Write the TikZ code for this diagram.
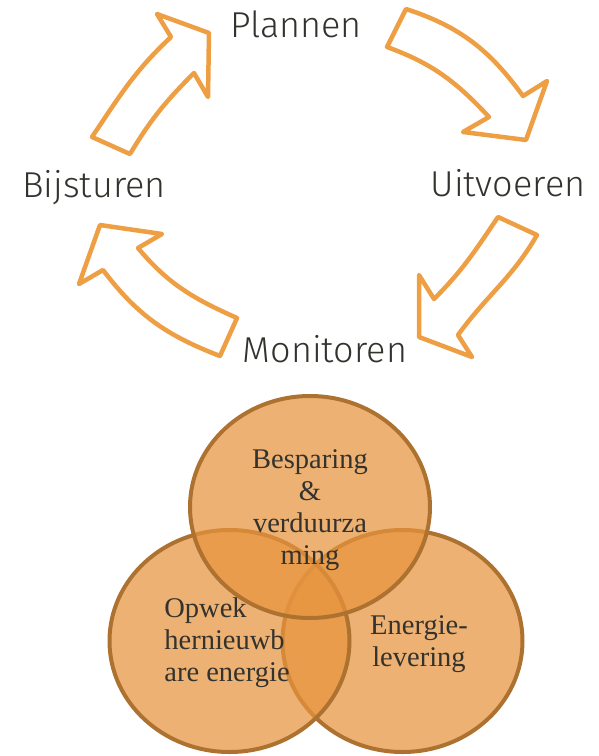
\documentclass[tikz,border=0pt]{standalone}
\usepackage{fontspec}
\usetikzlibrary{shapes.geometric}
\newfontfamily\cyclefont{Fira Sans Light}
\newfontfamily\vennfont{Liberation Serif}
\definecolor{arroworange}{RGB}{238,158,67}
\definecolor{vennfill}{RGB}{230,148,61}
\definecolor{vennline}{RGB}{174,114,48}
\definecolor{labelgray}{RGB}{52,50,45}

\tikzset{
  cyclearrow/.style={draw=arroworange, line width=4.5pt, line join=round, fill=white},
  cyclelabel/.style={font=\cyclefont\fontsize{36}{40}\selectfont, text=labelgray, anchor=base, inner sep=0pt},
  venn/.style={ellipse, draw=vennline, line width=4pt, fill=vennfill, fill opacity=0.72,
    minimum width=240pt, minimum height=222pt, inner sep=0pt},
  venntext/.style={font=\vennfont\fontsize{28.5}{32}\selectfont, text=labelgray, inner sep=0pt}
}

\begin{document}
\begin{tikzpicture}[x=1pt,y=1pt]
  \useasboundingbox (0,0) rectangle (598,-756);

  % cycle labels
  \node[cyclelabel] (plan) at (296,-37) {Plannen};
  \node[cyclelabel] (uitv) at (508,-196) {Uitvoeren};
  \node[cyclelabel] (moni) at (325,-362) {Monitoren};
  \node[cyclelabel] (bijs) at (94,-197) {Bijsturen};

  % bijsturen -> plannen
  \filldraw[cyclearrow] (92,-137) to[out=56,in=223] (171,-37) -- (157,-14) -- (209,-33)
      -- (208,-97) -- (194,-73) to[out=225,in=59] (130,-154) -- cycle;
  % plannen -> uitvoeren
  \filldraw[cyclearrow] (406,-9) to[out=-18,in=126] (523,-96) -- (547,-81) -- (526,-140)
      -- (463,-132) -- (489,-117) to[out=133,in=-20] (387,-47) -- cycle;
  % uitvoeren -> monitoren
  \filldraw[cyclearrow] (537,-235) to[out=-120,in=54] (458,-335) -- (472,-357) -- (419,-337)
      -- (419,-275) -- (434,-299) to[out=45,in=236] (498,-217) -- cycle;
  % monitoren -> bijsturen
  \filldraw[cyclearrow] (237,-318) to[out=156,in=-50] (138,-248) -- (162,-234) -- (100,-225)
      -- (79,-284) -- (103,-270) to[out=-53,in=159] (220,-356) -- cycle;

  % venn
  \node[venn] (lever) at (402.5,-641) {};
  \node[venn] (opwek) at (229.5,-641) {};
  \node[venn] (besp) at (310,-507) {};

  \node[venntext, align=center] (bespt) at (310,-510) {Besparing\\\&\\verduurza\\ming};
  \node[venntext, align=left] (opwekt) at (227,-643) {Opwek\\hernieuwb\\are energie};
  \node[venntext, align=center] (levert) at (419,-644) {Energie-\\levering};
\end{tikzpicture}
\end{document}
